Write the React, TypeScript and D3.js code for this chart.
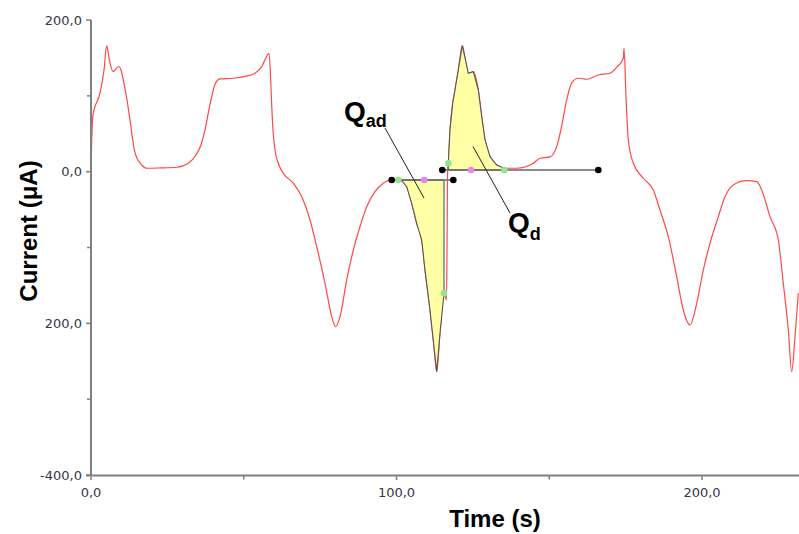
import React from "react";
import * as d3 from "d3";

const times = [
  0, 0.16, 0.65, 2.95, 4.26, 5.14, 5.89, 7.2, 9.0, 9.82, 10.57, 11.78, 12.77, 14.4, 16.6, 18.23,
  22.59, 28.05, 31.85, 34.37, 35.99, 37.32, 38.46, 39.51, 40.59, 42.23, 46.58, 50.41, 53.68, 55.88,
  58.27, 58.82, 59.08, 59.57, 60.23, 61.31, 62.95, 66.22, 68.97, 71.69, 73.88, 76.6, 78.79, 80.1,
  81.51, 83.7, 85.86, 88.05, 90.25, 92.96, 95.68, 98.43, 100.59, 101.8, 103.34, 104.98, 106.61,
  108.25, 109.33, 110.97, 112.27, 113.16, 114.24, 115.55, 116.37, 116.53, 116.63, 116.79, 116.96,
  117.51, 118.4, 119.15, 120.23, 121.54, 122.42, 123.5, 125.14, 126.78, 127.89, 128.97, 130.61,
  132.8, 135.29, 139.35, 144.78, 146.97, 150.25, 152.44, 154.07, 155.71, 157.35, 159.51, 162.26,
  166.06, 169.89, 172.18, 174.24, 174.47, 175.12, 175.88, 177.51, 180.79, 184.06, 186.25, 188.97,
  191.72, 193.88, 196.07, 198.27, 200.43, 202.62, 205.34, 207.53, 210.25, 214.63, 217.91, 219.54,
  222.26, 224.98, 226.61, 228.25, 229.36, 230.44, 231.52,
];
const currents = [
  -5.7, 28.6, 74.8, 103.8, 134.1, 166.2, 150, 131.9, 138.7, 134.1, 120.9, 94.6, 68.2, 24.7, 8.8, 4.5,
  4.9, 5.8, 11.1, 22.0, 35.2, 55.0, 78.7, 98.9, 115.3, 122.3, 123.2, 125.6, 129.8, 138.5,
  156.1, 120.9, 94.6, 55.0, 28.6, 11.1, -2.1, -15.3, -33.0, -63.7, -98.9, -147.2, -191.2, -204.4,
  -191.2, -142.8, -103.3, -72.5, -46.2, -26.4, -15.3, -10.9, -10.9, -12.3, -19.8, -41.7, -68.1,
  -90.1, -129.6, -182.4, -230.8, -263.8, -212.7, -160.4, -169.2, -103.3, -37.3, 6.2, 11.1,
  55.0, 90.2, 107.7, 134.1, 166.2, 150, 129.8, 131.9, 107.7, 72.5, 41.8, 19.8,
  8.8, 4.5, 4.5, 11.1, 17.7, 19.4, 33.0, 60.3, 94.6, 117.0, 123.2, 121.9,
  127.5, 129.8, 138.1, 149.6, 162.7, 98.9, 41.8, 11.1, -8.7, -24.1, -50.5, -85.7,
  -138.5, -182.4, -202.2, -173.6, -129.6, -94.4, -59.3, -33.0, -17.5, -11.9, -13.2, -24.1,
  -59.3, -90.1, -147.2, -208.8, -263.8, -217.6, -160.4,
];

// integration regions
const adBaseline = [98.43, 118.6];
const adRange = [100.59, 115.55];
const adLevel = -10.9;
const adMid = 109.1;
const dBaseline = [114.99, 166.06];
const dRange = [116.96, 135.29];
const dLevel = 2.2;
const dMid = 124.4;

const yTicks = [200, 0, -200, -400];
const yTickLabels = ["200,0", "0,0", "200,0", "-400,0"];
const yMinorTicks = [100, -100, -300];
const xTicks = [0, 100, 200];
const xTickLabels = ["0,0", "100,0", "200,0"];
const xMinorTicks = [50, 150];

const W = 799;
const H = 534;

export default function App() {
  const x = d3.scaleLinear().domain([0, 231.75]).range([91, 799]);
  const y = d3.scaleLinear().domain([-400, 200]).range([475, 20]);
  const data = times.map((t, i) => ({ t, v: currents[i] }));

  const line = d3
    .line<{ t: number; v: number }>()
    .x((d) => x(d.t))
    .y((d) => y(d.v))
    .curve(d3.curveMonotoneX);

  const valueAt = (t: number) => {
    const i = times.findIndex((tt) => tt >= t);
    if (i <= 0) return currents[0];
    const t0 = times[i - 1], t1 = times[i];
    return currents[i - 1] + ((currents[i] - currents[i - 1]) * (t - t0)) / (t1 - t0);
  };

  const regionPath = (range: number[], level: number) => {
    const pts = data.filter((d) => d.t >= range[0] - 1e-6 && d.t <= range[1] + 1e-6);
    const poly = [...pts, { t: range[1], v: level }, { t: range[0], v: level }];
    return (
      d3
        .line<{ t: number; v: number }>()
        .x((d) => x(d.t))
        .y((d) => y(d.v))
        .curve(d3.curveLinear)(poly) + "Z"
    );
  };

  const axisColor = "#808080";
  const tickTextColor = "#363648";

  return (
    <svg width={W} height={H} style={{ position: "absolute", left: 0, top: 0 }}>
      <rect x={0} y={0} width={W} height={H} fill="#ffffff" />
      <path d={line(data) || ""} fill="none" stroke="#ff4848" strokeWidth={1.2} />

      <path d={regionPath(adRange, adLevel)} fill="#ffffa6" stroke="#555555" strokeWidth={1.1} />
      <path d={regionPath(dRange, dLevel)} fill="#ffffa6" stroke="#555555" strokeWidth={1.1} />

      <line x1={x(adBaseline[0])} x2={x(adBaseline[1])} y1={y(adLevel)} y2={y(adLevel)} stroke="#666" strokeWidth={1.4} />
      <line x1={x(dBaseline[0])} x2={x(dBaseline[1])} y1={y(dLevel)} y2={y(dLevel)} stroke="#666" strokeWidth={1.4} />

      {[adBaseline[0], adBaseline[1]].map((t, i) => (
        <circle key={"ab" + i} cx={x(t)} cy={y(adLevel)} r={3.3} fill="#000" />
      ))}
      {[dBaseline[0], dBaseline[1]].map((t, i) => (
        <circle key={"db" + i} cx={x(t)} cy={y(dLevel)} r={3.3} fill="#000" />
      ))}
      <circle cx={x(adRange[0])} cy={y(valueAt(adRange[0]))} r={3.3} fill="#8ee68e" />
      <circle cx={x(adRange[1])} cy={y(valueAt(adRange[1]))} r={3.3} fill="#8ee68e" />
      <circle cx={x(dRange[0])} cy={y(valueAt(dRange[0]))} r={3.3} fill="#8ee68e" />
      <circle cx={x(dRange[1])} cy={y(dLevel)} r={3.3} fill="#8ee68e" />
      <circle cx={x(adMid)} cy={y(adLevel)} r={3.3} fill="#ee82ee" />
      <circle cx={x(dMid)} cy={y(dLevel)} r={3.3} fill="#ee82ee" />

      <line x1={385} y1={128} x2={424} y2={198} stroke="#222" strokeWidth={1} />
      <line x1={473} y1={146.5} x2={510} y2={213} stroke="#222" strokeWidth={1} />
      <text x={344} y={121} fontFamily="Liberation Sans, Arial, sans-serif" fontWeight="bold" fontSize={28} fill="#000">
        Q<tspan fontSize={18} dy={6}>ad</tspan>
      </text>
      <text x={508} y={232} fontFamily="Liberation Sans, Arial, sans-serif" fontWeight="bold" fontSize={28} fill="#000">
        Q<tspan fontSize={18} dy={8}>d</tspan>
      </text>

      <line x1={91} x2={91} y1={y(200)} y2={y(-400)} stroke={axisColor} strokeWidth={2} />
      {yTicks.map((v, i) => (
        <g key={"yt" + i}>
          <line x1={86} x2={91} y1={y(v)} y2={y(v)} stroke={axisColor} strokeWidth={1.5} />
          <text x={82} y={y(v) + 4.5} textAnchor="end" fontFamily="DejaVu Sans, sans-serif" fontSize={13} fill={tickTextColor}>
            {yTickLabels[i]}
          </text>
        </g>
      ))}
      {yMinorTicks.map((v, i) => (
        <line key={"ym" + i} x1={87} x2={91} y1={y(v)} y2={y(v)} stroke={axisColor} strokeWidth={1.5} />
      ))}

      <line x1={86} x2={799} y1={475.5} y2={475.5} stroke={axisColor} strokeWidth={2} />
      {xTicks.map((t, i) => (
        <g key={"xt" + i}>
          <line x1={x(t)} x2={x(t)} y1={475.5} y2={480} stroke={axisColor} strokeWidth={1.5} />
          <text x={x(t)} y={497} textAnchor="middle" fontFamily="DejaVu Sans, sans-serif" fontSize={13} fill={tickTextColor}>
            {xTickLabels[i]}
          </text>
        </g>
      ))}
      {xMinorTicks.map((t, i) => (
        <line key={"xm" + i} x1={x(t)} x2={x(t)} y1={475.5} y2={479.5} stroke={axisColor} strokeWidth={1.5} />
      ))}

      <text x={495} y={527} textAnchor="middle" fontFamily="Liberation Sans, Arial, sans-serif" fontWeight="bold" fontSize={24} fill="#000">
        Time (s)
      </text>
      <text
        transform="translate(37,231) rotate(-90)"
        textAnchor="middle"
        fontFamily="Liberation Sans, Arial, sans-serif"
        fontWeight="bold"
        fontSize={24}
        fill="#000"
      >
        Current (μA)
      </text>
    </svg>
  );
}
